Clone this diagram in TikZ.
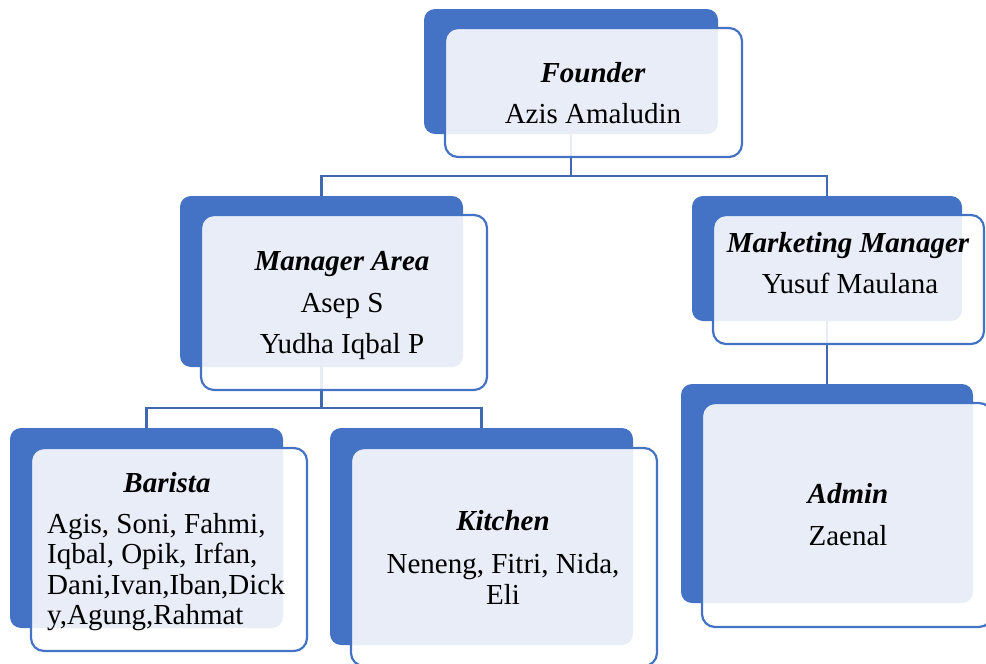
\documentclass[tikz,border=0pt]{standalone}
\usepackage{fontspec}
\setmainfont{Liberation Serif}
\definecolor{cblue}{HTML}{4472C4}
\definecolor{lineblue}{HTML}{4168B0}
\begin{document}
\begin{tikzpicture}[x=1pt,y=-1pt,
  backbox/.style={fill=cblue, rounded corners=11pt, inner sep=0pt, outer sep=0pt, anchor=north west},
  frontbox/.style={draw=cblue, line width=2.2pt, fill=white, fill opacity=0.88, rounded corners=13pt, inner sep=0pt, outer sep=0pt, anchor=north west},
  conn/.style={draw=lineblue, line width=2.3pt},
  ttl/.style={font=\fontsize{29}{35}\selectfont\bfseries\itshape, anchor=base, inner sep=0pt},
  txt/.style={font=\fontsize{29}{35}\selectfont, anchor=base, inner sep=0pt}]
\useasboundingbox (0,0) rectangle (986,664);
% back boxes
\node[backbox, minimum width=294pt, minimum height=125pt] (fb) at (424,9) {};
\node[backbox, minimum width=283pt, minimum height=171pt] (mb) at (180,196) {};
\node[backbox, minimum width=270pt, minimum height=125pt] (mkb) at (692,196) {};
\node[backbox, minimum width=273pt, minimum height=200pt] (bb) at (10,428) {};
\node[backbox, minimum width=303pt, minimum height=217pt] (kb) at (330,428) {};
\node[backbox, minimum width=292pt, minimum height=219pt] (ab) at (681,384) {};
% connectors
\coordinate (j1) at (571,176);
\coordinate (j2) at (321.5,408);
\draw[conn] (fb.south) -- (fb.south |- j1);
\draw[conn] (mb.north) |- (j1) -| (mkb.north);
\draw[conn] (mb.south) -- (mb.south |- j2);
\draw[conn] (bb.north) |- (j2) -| (kb.north);
\draw[conn] (mkb.south) -- (ab.north);
% front boxes
\node[frontbox, minimum width=297pt, minimum height=129pt] (ff) at (445,28) {};
\node[frontbox, minimum width=286pt, minimum height=175pt] (mf) at (201,215) {};
\node[frontbox, minimum width=271pt, minimum height=129pt] (mkf) at (713,215) {};
\node[frontbox, minimum width=276pt, minimum height=203pt] (bf) at (31,448) {};
\node[frontbox, minimum width=306pt, minimum height=218pt] (kf) at (351,448) {};
\node[frontbox, minimum width=290pt, minimum height=224pt] (af) at (702,403) {};
% texts
\node[ttl] (t1) at (593,82) {Founder};
\node[txt] (t1b) at (593,123) {Azis Amaludin};
\node[ttl] (t2) at (342,270) {Manager Area};
\node[txt] (t2b) at (342,312) {Asep S};
\node[txt] (t2c) at (342,353) {Yudha Iqbal P};
\node[ttl] (t3) at (848,252) {Marketing Manager};
\node[txt] (t3b) at (850,293) {Yusuf Maulana};
\node[ttl] (t4) at (167,492) {Barista};
\node[txt, anchor=base west] (t4b) at (47,533) {Agis, Soni, Fahmi,};
\node[txt, anchor=base west] (t4c) at (47,563) {Iqbal, Opik, Irfan,};
\node[txt, anchor=base west] (t4d) at (47,594) {Dani,Ivan,Iban,Dick};
\node[txt, anchor=base west] (t4e) at (47,624) {y,Agung,Rahmat};
\node[ttl] (t5) at (503,530) {Kitchen};
\node[txt] (t5b) at (503,573) {Neneng, Fitri, Nida,};
\node[txt] (t5c) at (503,604) {Eli};
\node[ttl] (t6) at (848,503) {Admin};
\node[txt] (t6b) at (848,545) {Zaenal};
\end{tikzpicture}
\end{document}
